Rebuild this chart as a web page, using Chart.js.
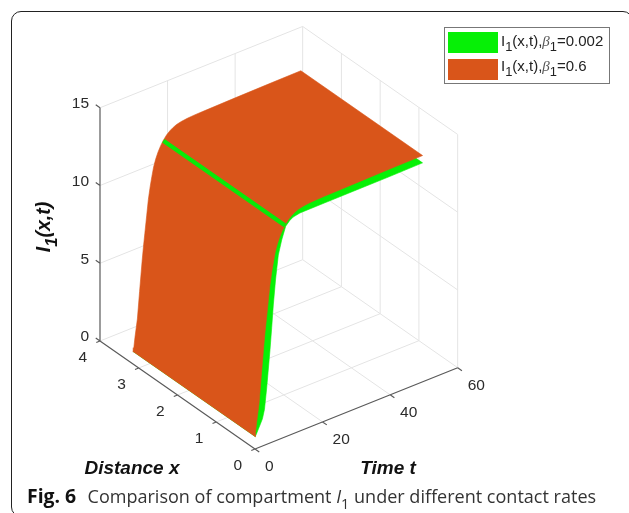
<!DOCTYPE html>
<html>
<head>
<meta charset="utf-8">
<script src="https://cdn.jsdelivr.net/npm/chart.js@4/dist/chart.umd.min.js"></script>
<style>
html,body{margin:0;padding:0;background:#fff;width:629px;height:513px;overflow:hidden;font-family:"Liberation Sans",Arial,sans-serif}
#wrap{position:relative;width:629px;height:513px;overflow:hidden}
#frame{position:absolute;left:11px;top:11px;width:622px;height:506px;border:1px solid #222;border-radius:10px;box-sizing:border-box}
canvas{position:absolute;left:0;top:0}
.t{position:absolute;white-space:nowrap;color:#111}
.title{font:italic bold 19px "Liberation Sans",Arial,sans-serif;transform:translate(-50%,-50%)}
#zlabel{left:43px;top:227px;transform:translate(-50%,-50%) rotate(-90deg);font-size:19.5px}
#legend{position:absolute;left:444px;top:27px;width:166px;height:57px;box-sizing:border-box;border:1.5px solid #777;background:#fff}
.sw{position:absolute;left:3px;width:50px;height:21px}
.lt{position:absolute;left:56px;font:15px "Liberation Sans",Arial,sans-serif;color:#222;white-space:nowrap;line-height:16px}
sub{font-size:.86em;line-height:0;vertical-align:-0.42em}
.lt i{font-family:"Liberation Serif",serif;color:#555}
#caption{left:27px;top:482px;font:18.05px "Open Sans",sans-serif;color:#333}
#caption b{color:#111;font-size:19.4px;margin-right:2px}
#caption sub{font-size:.8em}
</style>
</head>
<body>
<div id="wrap">
<canvas id="c" width="629" height="513"></canvas>
<div id="frame"></div>
<div class="t title" id="zlabel">I<sub>1</sub>(x,t)</div>
<div class="t title" style="left:132px;top:468px">Distance x</div>
<div class="t title" style="left:388px;top:468px">Time t</div>
<div id="legend">
  <div class="sw" id="sw0" style="top:4px"></div><div class="lt" style="top:5px">I<sub>1</sub>(x,t),<i>β</i><sub>1</sub>=0.002</div>
  <div class="sw" id="sw1" style="top:31px"></div><div class="lt" style="top:30px">I<sub>1</sub>(x,t),<i>β</i><sub>1</sub>=0.6</div>
</div>
<div class="t" id="caption"><b>Fig. 6</b>&nbsp; Comparison of compartment <i>I</i><sub>1</sub> under different contact rates</div>
</div>
<script>
// ---- data ----
const zTicks = [0, 5, 10, 15];
const xTicks = [0, 1, 2, 3, 4];
const tTicks = [0, 20, 40, 60];
const xEdges = [0, 3.14];
const timeOrange = [0, 0.15, 0.5, 1.2, 1.85, 2.6, 3, 3.4, 3.95, 4.45, 5, 5.5, 6, 6.6, 7.3, 8.1, 8.9, 9.9, 10.9, 11.8, 12.8, 14.2, 16, 18, 20.5, 30, 40, 49.6];
const valueOrange = [0.78, 1.05, 1.7, 2.8, 4.5, 6.4, 7.3, 8.1, 9.2, 10.2, 11, 11.6, 12.15, 12.6, 13, 13.35, 13.63, 13.9, 14.08, 14.2, 14.3, 14.37, 14.42, 14.45, 14.46, 14.5, 14.53, 14.55];
const timeGreen = [0, 0.4, 0.8, 1.48, 2.2, 2.8, 3.46, 3.95, 4.44, 4.95, 5.42, 6.1, 6.9, 7.9, 9.09, 10.3, 11.3, 13.3, 20.5, 30, 40, 49.6];
const valueGreen = [0.78, 0.92, 1.1, 1.41, 1.75, 2.3, 3.62, 4.8, 5.98, 7.4, 8.79, 10.4, 11.87, 12.75, 13.54, 13.8, 13.93, 14.02, 14.03, 14.04, 14.05, 14.08];
const crestTime = [8.9];
const crestValue = [13.6];
const colorGreen = '#06f006';
const colorOrange = '#d9551a';

// ---- view of the 3-D box: horizontal and vertical units per data unit ----
const view = {ux: -38.75, ut: 3.378, vx: 27, vt: 1.355, vz: 15.55};
const proj = (x, t, z) => ({x: view.ux * x + view.ut * t, y: view.vx * x + view.vt * t + view.vz * z});
const GAP = {x: NaN, y: NaN};
function segs(list) {
  const out = [];
  list.forEach(s => { out.push(proj(...s[0]), proj(...s[1]), GAP); });
  return out;
}
const X1 = 4, T1 = 60, Z1 = 15;
const gridSegs = [];
xTicks.slice(1, -1).forEach(x => {
  gridSegs.push([[x, 0, 0], [x, T1, 0]], [[x, T1, 0], [x, T1, Z1]]);
});
gridSegs.push([[0, T1, 0], [0, T1, Z1]], [[X1, T1, 0], [X1, T1, Z1]], [[X1, 0, 0], [X1, T1, 0]], [[0, T1, 0], [X1, T1, 0]]);
tTicks.slice(1, -1).forEach(t => {
  gridSegs.push([[0, t, 0], [X1, t, 0]], [[X1, t, 0], [X1, t, Z1]]);
});
zTicks.slice(1).forEach(z => {
  gridSegs.push([[X1, 0, z], [X1, T1, z]], [[X1, T1, z], [0, T1, z]]);
});
const axisSegs = [
  [[X1, 0, 0], [X1, 0, Z1]],
  [[X1, 0, 0], [0, 0, 0]],
  [[0, 0, 0], [0, T1, 0]]
];
zTicks.forEach(z => axisSegs.push([[X1, 0, z], [X1 + 0.11, 0, z]]));
xTicks.forEach(x => axisSegs.push([[x, 0, 0], [x, -1.1, 0]]));
tTicks.forEach(t => axisSegs.push([[0, t, 0], [-0.11, t, 0]]));

function surface(times, values) {
  const pts = [];
  times.forEach((t, i) => pts.push(proj(xEdges[0], t, values[i])));
  for (let i = times.length - 1; i >= 0; i--) pts.push(proj(xEdges[1], times[i], values[i]));
  return pts;
}
const base = {showLine: true, pointRadius: 0, pointHoverRadius: 0, tension: 0, fill: false};

const tickText = {
  id: 'tickText',
  afterDraw(chart) {
    const {ctx, scales: {x: sx, y: sy}} = chart;
    const put = (label, p, dx, dy, align) => {
      ctx.textAlign = align;
      ctx.textBaseline = 'middle';
      ctx.fillText(String(label), sx.getPixelForValue(p.x) + dx, sy.getPixelForValue(p.y) + dy);
    };
    ctx.save();
    ctx.font = '15.5px "Liberation Sans", Arial, sans-serif';
    ctx.fillStyle = '#2b2b2b';
    zTicks.forEach(z => put(z, proj(X1, 0, z), -11, -4, 'right'));
    xTicks.forEach(x => put(x, proj(x, 0, 0), -17.3, 16.5, 'center'));
    tTicks.forEach(t => put(t, proj(0, t, 0), 10, 17.8, 'left'));
    ctx.restore();
  }
};

new Chart(document.getElementById('c'), {
  type: 'scatter',
  data: {datasets: [
    Object.assign({}, base, {label: 'crest', order: 1, data: [proj(xEdges[0], crestTime[0], crestValue[0]), proj(xEdges[1], crestTime[0], crestValue[0])], borderColor: '#08ea08', borderWidth: 4.2}),
    Object.assign({}, base, {label: 'I1(x,t), beta1=0.6', order: 2, data: surface(timeOrange, valueOrange), borderColor: colorOrange, borderWidth: 0.6, backgroundColor: colorOrange, fill: 'shape'}),
    Object.assign({}, base, {label: 'I1(x,t), beta1=0.002', order: 3, data: surface(timeGreen, valueGreen), borderColor: colorGreen, borderWidth: 0.6, backgroundColor: colorGreen, fill: 'shape'}),
    Object.assign({}, base, {label: 'axes', order: 4, data: segs(axisSegs), borderColor: '#5a5a5a', borderWidth: 1.2, spanGaps: false}),
    Object.assign({}, base, {label: 'grid', order: 5, data: segs(gridSegs), borderColor: '#e4e4e4', borderWidth: 1, spanGaps: false})
  ]},
  options: {
    responsive: false, animation: false, devicePixelRatio: 1,
    layout: {padding: 0},
    plugins: {legend: {display: false}, tooltip: {enabled: false}},
    scales: {
      x: {type: 'linear', min: -255, max: 374, display: false},
      y: {type: 'linear', min: -64, max: 449, display: false}
    }
  },
  plugins: [tickText]
});
document.getElementById('sw0').style.background = colorGreen;
document.getElementById('sw1').style.background = colorOrange;
</script>
</body>
</html>
